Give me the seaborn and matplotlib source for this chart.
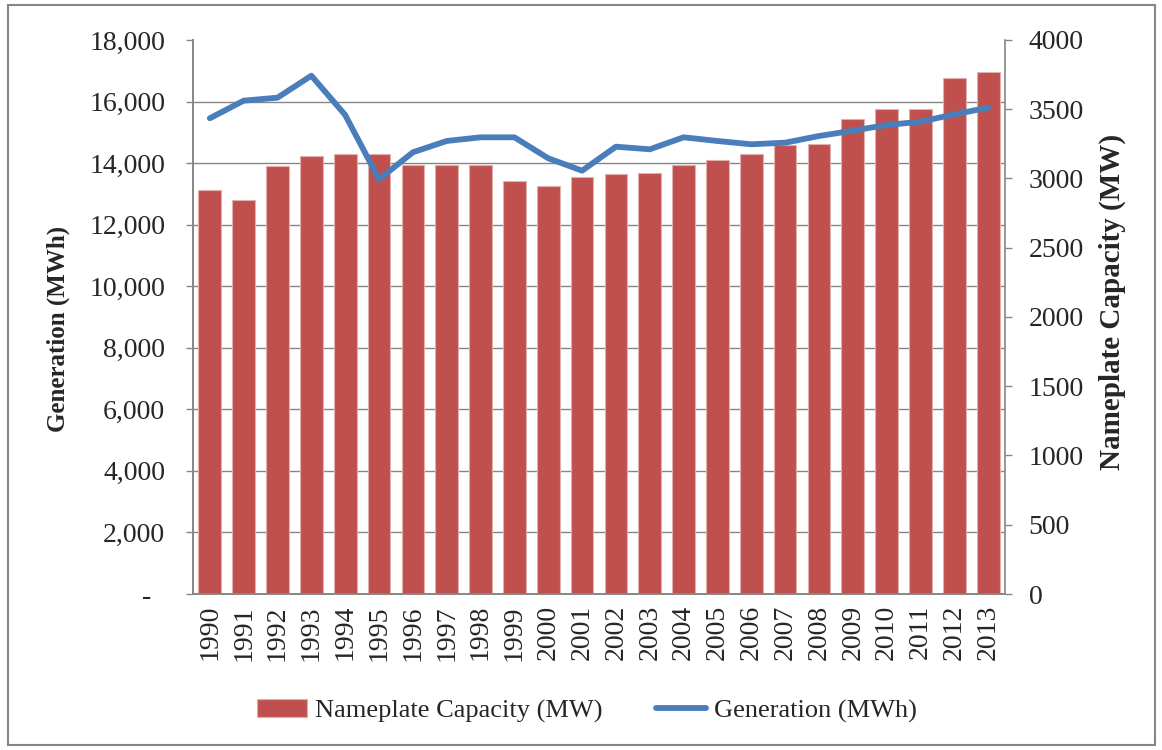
import numpy as np
import matplotlib
matplotlib.use('Agg')
import matplotlib.pyplot as plt
from matplotlib.patches import Rectangle
import seaborn as sns

# data
years = ['1990', '1991', '1992', '1993', '1994', '1995', '1996', '1997',
         '1998', '1999', '2000', '2001', '2002', '2003', '2004', '2005',
         '2006', '2007', '2008', '2009', '2010', '2011', '2012', '2013']
capacity_mw = [2917, 2845, 3092, 3165, 3179, 3175, 3097, 3097,
               3097, 2984, 2948, 3011, 3035, 3042, 3097, 3134,
               3177, 3240, 3247, 3427, 3502, 3504, 3728, 3767]
generation_mwh = [15456, 16028, 16125, 16840, 15563, 13474, 14351, 14718,
                  14838, 14838, 14156, 13753, 14533, 14448, 14838, 14718,
                  14611, 14663, 14880, 15053, 15238, 15345, 15585, 15800]
gen_ticks = [0, 2000, 4000, 6000, 8000, 10000, 12000, 14000, 16000, 18000]
cap_ticks = [0, 500, 1000, 1500, 2000, 2500, 3000, 3500, 4000]

sns.set_style('white')
plt.rcParams['font.family'] = ['Liberation Serif', 'DejaVu Serif']

grey = '#868686'
bar_col = '#c0504d'
line_col = '#4a7ebb'

fig = plt.figure(figsize=(11.62, 7.5), dpi=100)
ax = fig.add_axes([0.166, 0.208, 0.699, 0.7387])
ax2 = ax.twinx()

# generation line on the left axis
sns.lineplot(x=np.arange(len(years)), y=generation_mwh, ax=ax, color=line_col,
             linewidth=4.2, solid_capstyle='round', solid_joinstyle='round')

# capacity bars on the right axis
sns.barplot(x=years, y=capacity_mw, ax=ax2, color=bar_col, saturation=1,
            width=0.67, edgecolor='#e3b0ae', linewidth=0.8)

ax.set_zorder(ax2.get_zorder() + 1)
ax.patch.set_visible(False)

ax.set_ylim(0, 18000)
ax2.set_ylim(0, 4000)
ax.set_xlim(-0.5, len(years) - 0.5)

# gridlines follow the left axis but are drawn behind the bars
ax.grid(False)
ax2.set_axisbelow(True)
ax2.set_yticks([t * 4000 / 18000 for t in gen_ticks], minor=True)
ax2.grid(True, axis='y', which='minor', color=grey, linewidth=1.0)
ax2.grid(False, which='major')
ax2.tick_params(axis='y', which='minor', length=0)

ax.set_yticks(gen_ticks, labels=[f'{t:,}' if t else '-  ' for t in gen_ticks])
ax2.set_yticks(cap_ticks, labels=[str(t) for t in cap_ticks])

ax.set_xticks(range(len(years)), labels=years, rotation=90)
ax.set_xticks(np.arange(-0.5, len(years)), minor=True)
ax.tick_params(axis='x', which='major', length=0, pad=8, labelsize=20)
ax.tick_params(axis='x', which='minor', length=6, direction='out', color=grey, width=1)
ax.tick_params(axis='y', length=5, direction='out', color=grey, width=1, pad=15, labelsize=20, left=True)
ax2.tick_params(axis='y', which='major', length=5, direction='out', color=grey, width=1, pad=12, labelsize=20, right=True)

for a in (ax, ax2):
    for s in a.spines.values():
        s.set_color(grey)
        s.set_linewidth(1.2)
    a.spines['top'].set_visible(False)
ax.spines['right'].set_visible(False)

ax.set_xlabel('')
ax.set_ylabel('Generation (MWh)', fontsize=18, fontweight='bold')
ax2.set_ylabel('Nameplate Capacity (MW)', fontsize=21, fontweight='bold')
ax.yaxis.set_label_coords(-0.151, 0.478)
ax2.yaxis.set_label_coords(1.115, 0.527)

handles = [ax2.containers[0], ax.lines[0]]
labels = ['Nameplate Capacity (MW)', 'Generation (MWh)']
leg = ax.get_legend()
if leg:
    leg.remove()
fig.legend(handles, labels, loc='center', bbox_to_anchor=(0.505, 0.052), ncol=2,
           frameon=False, fontsize=19, handlelength=1.9, handleheight=0.65,
           columnspacing=2.0, handletextpad=0.3)

fig.add_artist(Rectangle((8 / 1162, 5 / 750), 1147 / 1162, 740 / 750,
                         transform=fig.transFigure, fill=False, edgecolor=grey, linewidth=1.5))

fig.savefig('out.png', dpi=100)
